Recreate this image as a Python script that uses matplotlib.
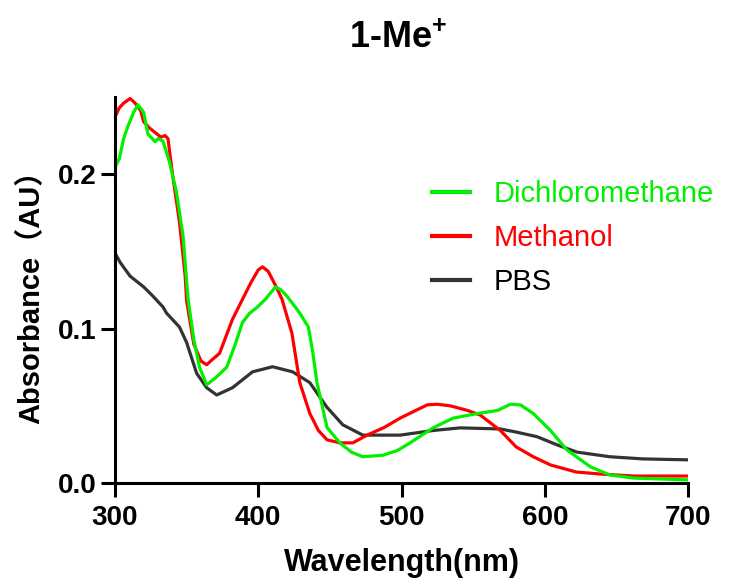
"""Absorption spectra of 1-Me+ in three solvents (Prism-style replot)."""

import matplotlib

matplotlib.use("Agg")
import matplotlib.pyplot as plt

plt.rcParams["font.family"] = ["Liberation Sans", "Noto Sans CJK SC", "DejaVu Sans"]
plt.rcParams["mathtext.fontset"] = "custom"
plt.rcParams["mathtext.rm"] = "Liberation Sans"
plt.rcParams["mathtext.bf"] = "Liberation Sans:bold"

# Methanol (red)
meoh_nm = [300, 303, 306, 310.5, 313, 315, 318, 320, 324, 328, 332, 335, 337, 340, 345,
           349, 350, 355, 360, 364, 368, 373, 382, 389, 395, 400, 403, 407, 412, 416.6,
           423.5, 429, 436, 442, 448, 457, 466, 476, 488, 499, 510, 518, 525, 534, 546,
           555, 569, 580, 592, 604, 622, 639, 662, 700]
meoh_abs = [0.237, 0.243, 0.246, 0.249, 0.247, 0.245, 0.241, 0.234, 0.230, 0.227, 0.224,
            0.225, 0.223, 0.201, 0.169, 0.134, 0.118, 0.090, 0.079, 0.0766, 0.080, 0.084,
            0.106, 0.119, 0.130, 0.138, 0.140, 0.137, 0.128, 0.119, 0.097, 0.065, 0.045,
            0.034, 0.028, 0.026, 0.026, 0.031, 0.036, 0.042, 0.047, 0.0506, 0.051, 0.050,
            0.047, 0.044, 0.034, 0.0234, 0.017, 0.0117, 0.0071, 0.0058, 0.0045, 0.0045]

# Dichloromethane (green)
dcm_nm = [300, 303, 306, 309, 313, 316, 320, 323, 328, 330, 333.5, 338, 343, 347.5, 351,
          355, 359, 364, 370, 378, 384, 389, 394, 399, 405, 412, 416, 420, 425, 429, 435,
          438, 441, 448, 457, 465, 473, 487, 497, 506, 522, 536, 553, 567, 576, 583, 592,
          604, 615.5, 632, 645.5, 662, 700]
dcm_abs = [0.2045, 0.21, 0.223, 0.231, 0.240, 0.245, 0.240, 0.226, 0.221, 0.223, 0.2215,
           0.208, 0.188, 0.160, 0.119, 0.093, 0.075, 0.0636, 0.068, 0.075, 0.090, 0.104,
           0.110, 0.1136, 0.119, 0.127, 0.125, 0.121, 0.115, 0.110, 0.101, 0.085, 0.065,
           0.036, 0.026, 0.020, 0.017, 0.018, 0.021, 0.026, 0.0357, 0.042, 0.045, 0.047,
           0.051, 0.0506, 0.045, 0.034, 0.0214, 0.0104, 0.0052, 0.0032, 0.002]

# PBS (dark grey)
pbs_nm = [300, 303.5, 310.5, 320, 326.5, 333.5, 336, 345, 350, 357, 364, 371, 382, 396,
          410, 424, 436, 448, 459, 473, 499, 522, 541, 569, 580, 594.6, 608.6, 622.5,
          645.5, 668.6, 700]
pbs_abs = [0.149, 0.143, 0.134, 0.127, 0.121, 0.114, 0.110, 0.101, 0.091, 0.071, 0.0617,
           0.057, 0.0617, 0.072, 0.0753, 0.072, 0.065, 0.049, 0.0377, 0.031, 0.031, 0.034,
           0.0357, 0.035, 0.033, 0.030, 0.0247, 0.020, 0.017, 0.0156, 0.015]

SERIES = [
    ("PBS", pbs_nm, pbs_abs, "#333333"),
    ("Methanol", meoh_nm, meoh_abs, "#ff0000"),
    ("Dichloromethane", dcm_nm, dcm_abs, "#00f000"),
]
LEGEND_ORDER = ["Dichloromethane", "Methanol", "PBS"]
x_ticks = [300, 400, 500, 600, 700]
y_ticks = [0.0, 0.1, 0.2]

fig = plt.figure(figsize=(7.35, 5.86), dpi=100)
ax = fig.add_axes([115 / 735, 1 - 483 / 586, 573 / 735, 386 / 586])

handles = {}
for name, xs, ys, color in SERIES:
    (ln,) = ax.plot(xs, ys, color=color, linewidth=2.3, label=name)
    handles[name] = ln

ax.set_xlim(300, 700)
ax.set_ylim(0, 0.25)
ax.set_xticks(x_ticks)
ax.set_yticks(y_ticks)
ax.set_yticklabels([f"{v:.1f}" for v in y_ticks])
for side in ("top", "right"):
    ax.spines[side].set_visible(False)
for side in ("left", "bottom"):
    ax.spines[side].set_linewidth(2.2)
ax.tick_params(width=2.2, length=10, labelsize=20)
ax.tick_params(axis="x", pad=6)
ax.tick_params(axis="y", pad=3)
for lbl in ax.get_xticklabels() + ax.get_yticklabels():
    lbl.set_fontweight("bold")

ax.set_xlabel("Wavelength(nm)", fontsize=22, fontweight="bold", labelpad=12)
ax.set_ylabel("Absorbance（AU）", fontsize=21, fontweight="bold", labelpad=9)

fig.text(0.542, 1 - 48 / 586, r"1-Me$^{\mathbf{+}}$", fontsize=26, fontweight="bold",
         ha="center", va="baseline")

leg = ax.legend([handles[n] for n in LEGEND_ORDER], LEGEND_ORDER, frameon=False,
                fontsize=21, handlelength=1.3, handletextpad=0.8, labelspacing=0.55,
                borderpad=0, borderaxespad=0, loc="center left",
                bbox_to_anchor=(432 / 735, 1 - 238 / 586), bbox_transform=fig.transFigure)
for txt, n in zip(leg.get_texts(), LEGEND_ORDER):
    txt.set_color("black" if n == "PBS" else handles[n].get_color())
for h in leg.get_lines():
    h.set_linewidth(3)

fig.savefig("out.png", dpi=100)
